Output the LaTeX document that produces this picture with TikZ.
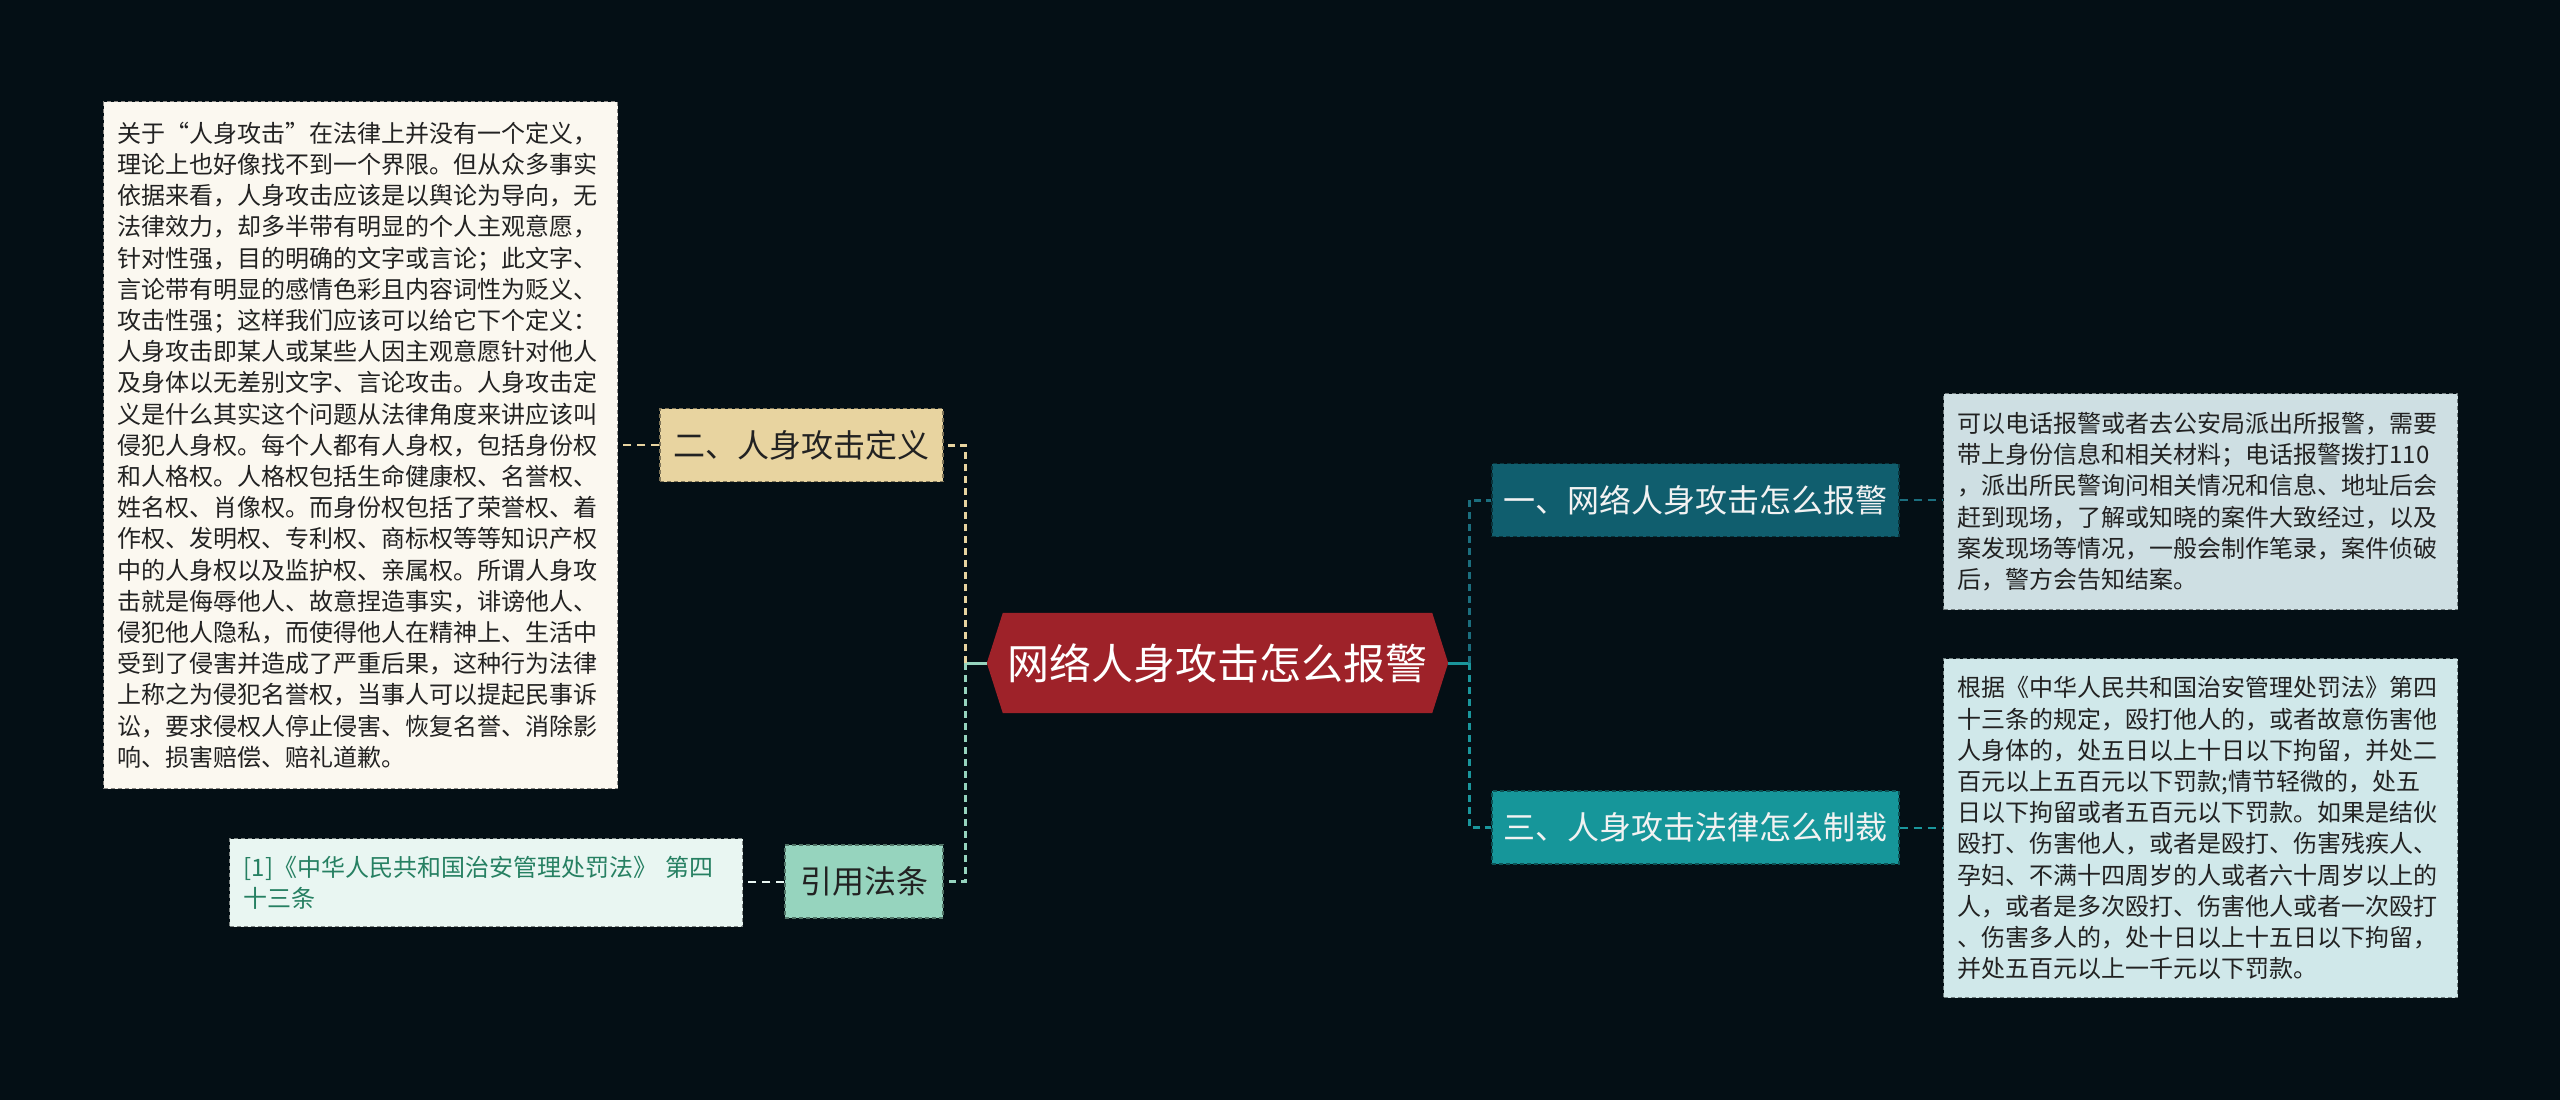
\documentclass[tikz,border=0pt]{standalone}
\usepackage{fontspec}
\newfontfamily\cjk{Noto Sans CJK SC}
\definecolor{bgc}{RGB}{4,15,21}
\definecolor{crimson}{RGB}{158,34,41}
\definecolor{tealdark}{RGB}{16,94,110}
\definecolor{teallight}{RGB}{22,150,154}
\definecolor{tanc}{RGB}{232,212,160}
\definecolor{mintc}{RGB}{150,212,190}
\definecolor{creamc}{RGB}{251,248,240}
\definecolor{refc}{RGB}{233,246,242}
\definecolor{reftext}{RGB}{38,128,98}
\definecolor{blueg}{RGB}{206,223,227}
\definecolor{cyanl}{RGB}{208,232,234}
\definecolor{darktext}{RGB}{34,34,34}
\definecolor{whitetext}{RGB}{242,242,242}
\definecolor{spinedark}{RGB}{27,110,126}
\definecolor{spineteal}{RGB}{26,150,156}
\tikzset{
  box/.style={draw=#1!55!black, line width=1.2pt, dash pattern=on 4pt off 3pt, fill=#1, inner sep=0pt},
  leafbox/.style={box=#1, anchor=north west, align=left, inner xsep=14pt, inner ysep=0pt,
    text=darktext, font=\cjk\fontsize{24pt}{31.2pt}\selectfont},
  branch/.style={box=#1, minimum height=73pt, inner sep=0pt, font=\cjk\fontsize{32pt}{38pt}\selectfont},
  spine/.style={draw=#1, line width=3pt, dash pattern=on 7pt off 5pt},
  leafline/.style={draw=#1, line width=2pt, dash pattern=on 8pt off 6pt},
  junction/.style={draw=#1, line width=3pt},
}
\begin{document}
\begin{tikzpicture}[x=1pt,y=-1pt]
\fill[bgc] (0,0) rectangle (2560,1100);
\useasboundingbox (0,0) rectangle (2560,1100);

% central topic
\node[minimum width=461pt, minimum height=100pt, inner sep=0pt] (center) at (1217.5,663) {};
\fill[crimson] (center.west) -- ([xshift=16pt]center.north west) -- ([xshift=-16pt]center.north east)
  -- (center.east) -- ([xshift=-16pt]center.south east) -- ([xshift=16pt]center.south west) -- cycle;
\node[text=white, font=\cjk\fontsize{42pt}{50pt}\selectfont] (centerlabel) at (center) {网络人身攻击怎么报警};

% branches
\node[branch=tanc, minimum width=283pt, text=darktext] (n2) at (801.5,445) {二、人身攻击定义};
\node[branch=mintc, minimum width=158pt, text=darktext] (n4) at (864,881.5) {引用法条};
\node[branch=tealdark, minimum width=407pt, text=whitetext] (n1) at (1695.5,500) {一、网络人身攻击怎么报警};
\node[branch=teallight, minimum width=407pt, text=whitetext] (n3) at (1695.5,827.5) {三、人身攻击法律怎么制裁};

% leaves
\node[leafbox=creamc, text width=486pt, minimum height=687pt] (def) at (103,101) {关于“人身攻击”在法律上并没有一个定义，\\
理论上也好像找不到一个界限。但从众多事实\\
依据来看，人身攻击应该是以舆论为导向，无\\
法律效力，却多半带有明显的个人主观意愿，\\
针对性强，目的明确的文字或言论；此文字、\\
言论带有明显的感情色彩且内容词性为贬义、\\
攻击性强；这样我们应该可以给它下个定义：\\
人身攻击即某人或某些人因主观意愿针对他人\\
及身体以无差别文字、言论攻击。人身攻击定\\
义是什么其实这个问题从法律角度来讲应该叫\\
侵犯人身权。每个人都有人身权，包括身份权\\
和人格权。人格权包括生命健康权、名誉权、\\
姓名权、肖像权。而身份权包括了荣誉权、着\\
作权、发明权、专利权、商标权等等知识产权\\
中的人身权以及监护权、亲属权。所谓人身攻\\
击就是侮辱他人、故意捏造事实，诽谤他人、\\
侵犯他人隐私，而使得他人在精神上、生活中\\
受到了侵害并造成了严重后果，这种行为法律\\
上称之为侵犯名誉权，当事人可以提起民事诉\\
讼，要求侵权人停止侵害、恢复名誉、消除影\\
响、损害赔偿、赔礼道歉。};

\node[leafbox=refc, text width=485pt, minimum height=88pt, text=reftext] (ref) at (229,838) {[1]《中华人民共和国治安管理处罚法》 第四\\
十三条};

\node[leafbox=blueg, text width=486pt, minimum height=216pt] (r1) at (1943,393) {可以电话报警或者去公安局派出所报警，需要\\
带上身份信息和相关材料；电话报警拨打110\\
，派出所民警询问相关情况和信息、地址后会\\
赶到现场，了解或知晓的案件大致经过，以及\\
案发现场等情况，一般会制作笔录，案件侦破\\
后，警方会告知结案。};

\node[leafbox=cyanl, text width=486pt, minimum height=339pt] (r2) at (1943,658) {根据《中华人民共和国治安管理处罚法》第四\\
十三条的规定，殴打他人的，或者故意伤害他\\
人身体的，处五日以上十日以下拘留，并处二\\
百元以上五百元以下罚款;情节轻微的，处五\\
日以下拘留或者五百元以下罚款。如果是结伙\\
殴打、伤害他人，或者是殴打、伤害残疾人、\\
孕妇、不满十四周岁的人或者六十周岁以上的\\
人，或者是多次殴打、伤害他人或者一次殴打\\
、伤害多人的，处十日以上十五日以下拘留，\\
并处五百元以上一千元以下罚款。};

% connectors
\coordinate (jl) at (965,663);
\coordinate (jr) at (1469,663);
\draw[junction=mintc] (center.west) -- (jl);
\draw[spine=tanc] (jl) |- (n2.east);
\draw[spine=mintc] (jl) |- (n4.east);
\draw[junction=spineteal] (center.east) -- (jr);
\draw[spine=spinedark] (jr) |- (n1.west);
\draw[spine=spineteal] (jr) |- (n3.west);
\draw[leafline=tanc] (n2.west) -- (n2.west -| def.east);
\draw[leafline=refc] (n4.west) -- (n4.west -| ref.east);
\draw[leafline=spinedark] (n1.east) -- (n1.east -| r1.west);
\draw[leafline=spineteal] (n3.east) -- (n3.east -| r2.west);
\end{tikzpicture}
\end{document}
